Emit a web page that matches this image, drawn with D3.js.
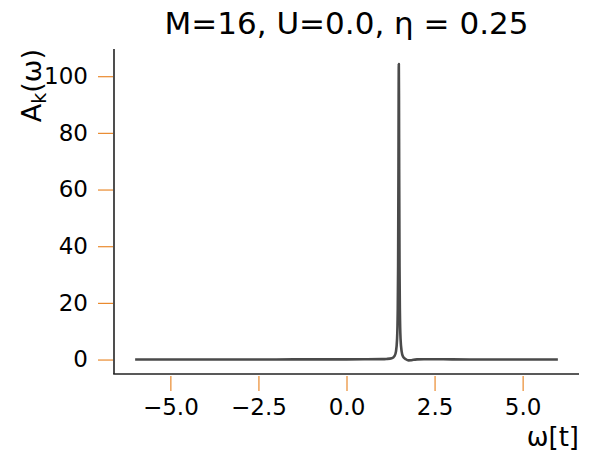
<!DOCTYPE html>
<html>
<head>
<meta charset="utf-8">
<script src="https://cdn.jsdelivr.net/npm/d3@7"></script>
<style>
  html, body { margin: 0; padding: 0; background: #fff; }
  svg { display: block; font-family: "DejaVu Sans", sans-serif; }
</style>
</head>
<body>
<svg id="chart" width="600" height="453"></svg>
<script>
// Spectral function A_k(ω) sampled on a frequency grid
const omega = [
  -6.0, -5.0, -4.0, -3.0, -2.0, -1.0, 0.0, 0.5, 1.0, 1.135, 1.285, 1.365,
  1.405, 1.435, 1.455, 1.465, 1.475, 1.48, 1.485, 1.49, 1.495, 1.505,
  1.515, 1.535, 1.565, 1.605, 1.685, 1.76, 1.83, 1.9, 2.0, 2.2, 2.5, 3.0,
  3.5, 4.0, 5.0, 6.0
];
const spectral = [
  0.02, 0.02, 0.03, 0.03, 0.04, 0.05, 0.06, 0.08, 0.14, 0.22, 0.47, 1.3,
  2.9, 7.1, 17.6, 32.7, 67.3, 91.7, 104.3, 91.7, 67.3, 32.7,
  17.6, 7.1, 2.9, 1.0, 0.1, -0.3, -0.25, -0.08, 0.05, 0.12, 0.1, 0.06,
  0.04, 0.03, 0.02, 0.02
];

const xTicks = [-5.0, -2.5, 0.0, 2.5, 5.0];
const yTicks = [0, 20, 40, 60, 80, 100];

const titleText = "M=16, U=0.0, η = 0.25";
const xLabel = "ω[t]";

const svg = d3.select("#chart");
const plotLeft = 114, plotRight = 579, plotTop = 49, plotBottom = 374;

const x = d3.scaleLinear().domain([-6.6, 6.6]).range([plotLeft, plotRight]);
const y = d3.scaleLinear().domain([-5.1, 109.6]).range([plotBottom, plotTop]);

const tickColor = "#ea8a2e";

// Curve
const line = d3.line()
  .x((d, i) => x(omega[i]))
  .y(d => y(d))
  .curve(d3.curveMonotoneX);

svg.append("path")
  .datum(spectral)
  .attr("d", line)
  .attr("fill", "none")
  .attr("stroke", "#4a4a4a")
  .attr("stroke-width", 2.6)
  .attr("stroke-linejoin", "round");

// Bottom axis (ticks hang below the spine)
const xAxis = svg.append("g")
  .attr("transform", `translate(0,${plotBottom + 2})`)
  .call(d3.axisBottom(x).tickValues(xTicks).tickSize(15).tickPadding(8)
    .tickFormat(d => d3.format(".1f")(d).replace("-", "\u2212")));
xAxis.select(".domain").remove();
xAxis.selectAll(".tick line").attr("stroke", tickColor).attr("stroke-width", 1.2);
xAxis.selectAll(".tick text")
  .attr("fill", "#000")
  .style("font-size", "23px")
  .style("font-family", "DejaVu Sans");

// Left axis
const yAxis = svg.append("g")
  .attr("transform", `translate(${plotLeft - 1},0)`)
  .call(d3.axisLeft(y).tickValues(yTicks).tickSize(15).tickPadding(10));
yAxis.select(".domain").remove();
yAxis.selectAll(".tick line").attr("stroke", tickColor).attr("stroke-width", 1.2);
yAxis.selectAll(".tick text")
  .attr("fill", "#000")
  .style("font-size", "23px")
  .style("font-family", "DejaVu Sans");

// Spines
svg.append("line")
  .attr("x1", plotLeft).attr("x2", plotLeft).attr("y1", plotTop).attr("y2", plotBottom)
  .attr("stroke", "#222").attr("stroke-width", 1.6);
svg.append("line")
  .attr("x1", plotLeft - 0.8).attr("x2", plotRight).attr("y1", plotBottom).attr("y2", plotBottom)
  .attr("stroke", "#222").attr("stroke-width", 1.6);

// Title
svg.append("text")
  .attr("x", (plotLeft + plotRight) / 2)
  .attr("y", 34)
  .attr("text-anchor", "middle")
  .style("font-size", "31px")
  .text(titleText);

// X label
svg.append("text")
  .attr("x", plotRight)
  .attr("y", 446)
  .attr("text-anchor", "end")
  .style("font-size", "26px")
  .text(xLabel);

// Y label: A_k(ω)
const yl = svg.append("text")
  .attr("transform", `translate(41,${plotTop}) rotate(-90)`)
  .attr("text-anchor", "end")
  .style("font-size", "27px");
yl.append("tspan").text("A");
yl.append("tspan").attr("dy", 5).style("font-size", "19px").text("k");
yl.append("tspan").attr("dy", -5).text("(ω)");
</script>
</body>
</html>
